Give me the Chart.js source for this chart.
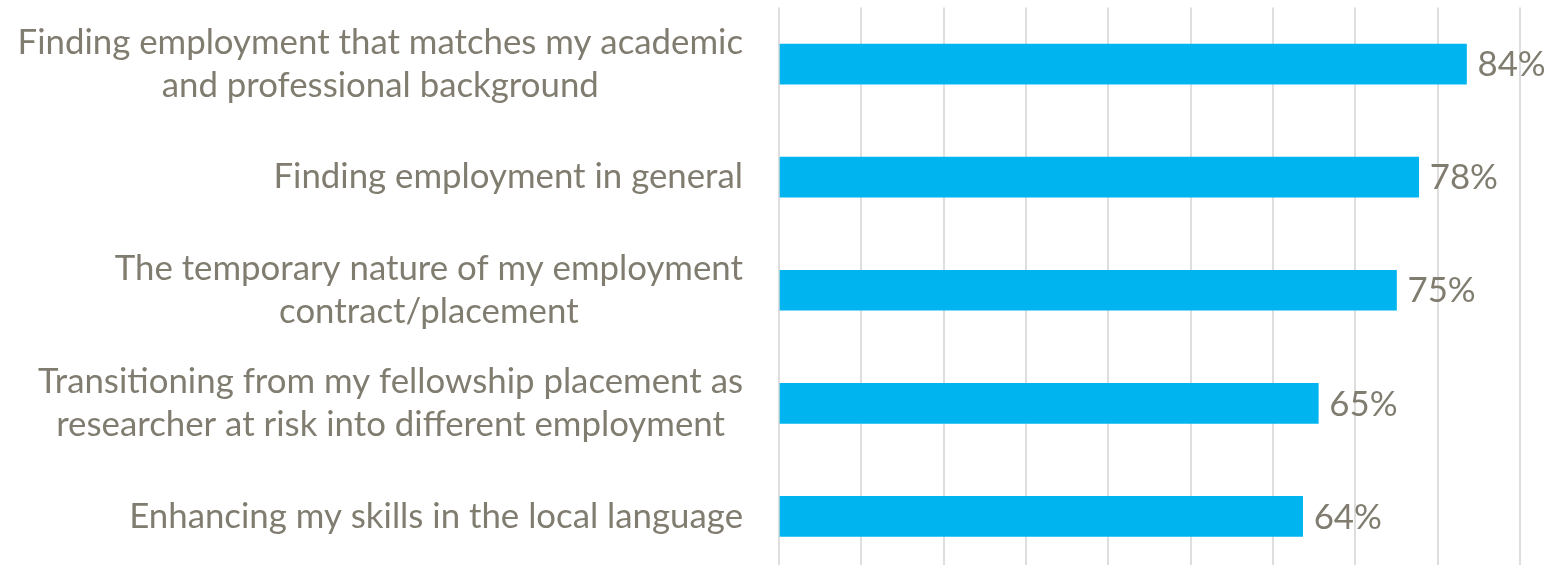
<!DOCTYPE html>
<html>
<head>
<meta charset="utf-8">
<script src="https://cdn.jsdelivr.net/npm/chart.js@4/dist/chart.umd.min.js"></script>
<style>
  html, body { margin: 0; padding: 0; background: #ffffff; }
  body { width: 1544px; height: 565px; overflow: hidden; }
  #wrap { width: 1544px; height: 573px; }
</style>
</head>
<body>
<div id="wrap"><canvas id="c" width="1544" height="573"></canvas></div>
<script>
const categories = [
  ["Finding employment that matches my academic", "and professional background"],
  ["Finding employment in general"],
  ["The temporary nature of my employment", "contract/placement"],
  ["Transitioning from my fellowship placement as", "researcher at risk into different employment"],
  ["Enhancing my skills in the local language"]
];
const values = [83.5, 77.7, 75.0, 65.5, 63.6];
const valueLabels = ["84%", "78%", "75%", "65%", "64%"];

const TEXT_COLOR = "#807D70";
const FONT = "34.8px Lato";

const labelPlugin = {
  id: "customLabels",
  afterDatasetsDraw(chart) {
    const ctx = chart.ctx;
    const y = chart.scales.y;
    const meta = chart.getDatasetMeta(0);
    ctx.save();
    ctx.font = FONT;
    ctx.fillStyle = TEXT_COLOR;
    ctx.textBaseline = "middle";
    const lh = 43;
    const rightEdge = chart.chartArea.left - 36;
    categories.forEach((lines, i) => {
      const cy = y.getPixelForValue(i);
      let maxW = 0;
      lines.forEach(l => { maxW = Math.max(maxW, ctx.measureText(l).width); });
      const cx = rightEdge - maxW / 2;
      ctx.textAlign = "center";
      lines.forEach((l, j) => {
        ctx.fillText(l, cx, cy + (j - (lines.length - 1) / 2) * lh);
      });
      const bar = meta.data[i];
      ctx.textAlign = "left";
      ctx.fillText(valueLabels[i], bar.x + 11, bar.y + 1);
    });
    ctx.restore();
  }
};

new Chart(document.getElementById("c"), {
  type: "bar",
  data: {
    labels: categories,
    datasets: [{
      data: values,
      backgroundColor: "#00B5EF",
      borderWidth: 0,
      barThickness: 40
    }]
  },
  options: {
    indexAxis: "y",
    responsive: false,
    animation: false,
    layout: { padding: { top: 7.5, right: 24, left: 0, bottom: 0 } },
    plugins: { legend: { display: false }, tooltip: { enabled: false } },
    scales: {
      x: {
        min: 0, max: 90,
        ticks: { display: false, stepSize: 10 },
        grid: { color: "#DEDEDE", lineWidth: 2, drawTicks: false },
        border: { display: false },
        afterFit(s) { s.height = 0; }
      },
      y: {
        ticks: { display: false },
        grid: { display: false, drawTicks: false },
        border: { display: false },
        afterFit(s) { s.width = 779; }
      }
    }
  },
  plugins: [labelPlugin]
});
</script>
</body>
</html>
